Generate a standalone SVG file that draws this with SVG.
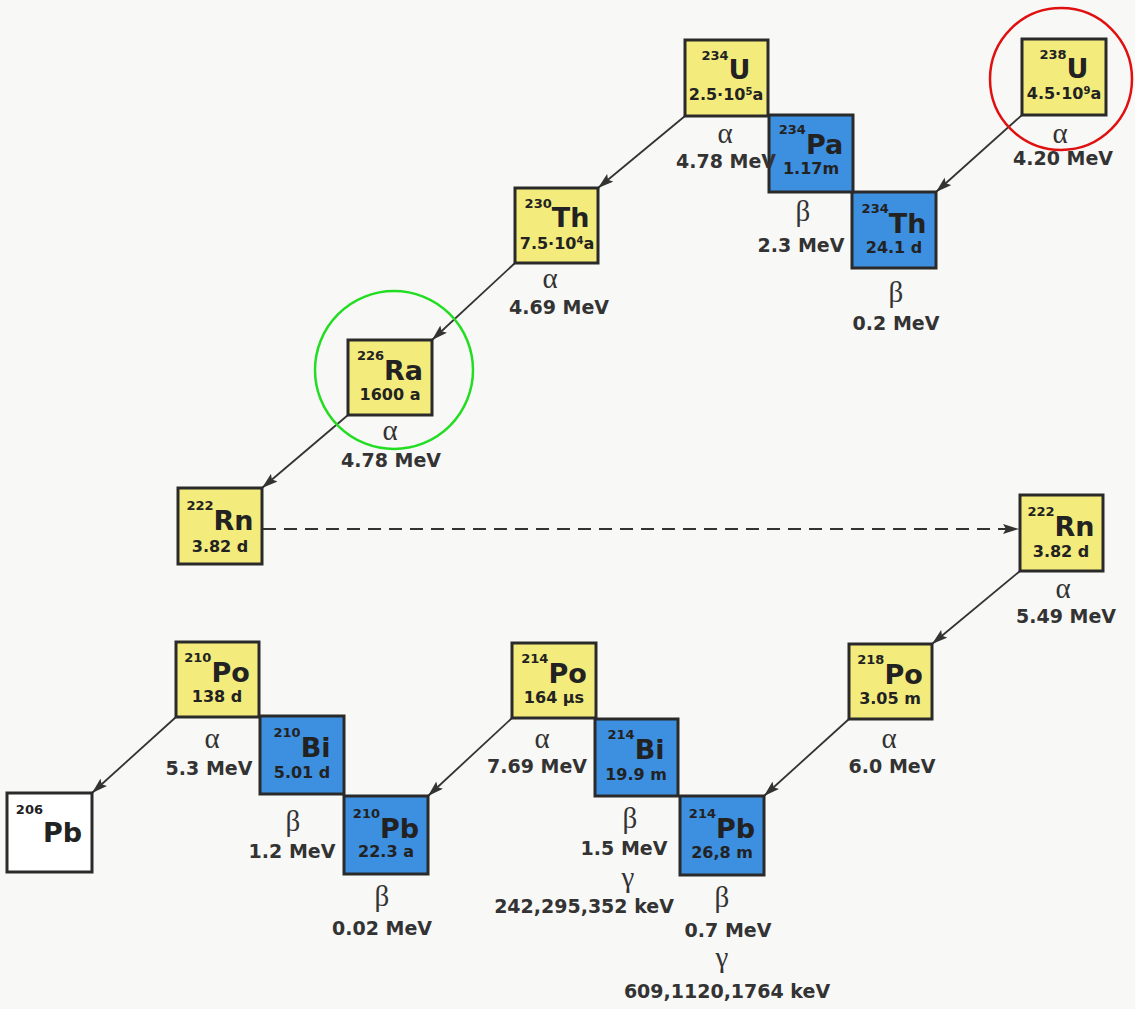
<svg xmlns="http://www.w3.org/2000/svg" width="1135" height="1009" viewBox="0 0 1135 1009">
<defs>
<style>
.bg{fill:#f8f8f6}
.box{stroke:#2a2a2a;stroke-width:3}
.y{fill:#f3eb7c}
.b{fill:#3d8fe0}
.w{fill:#ffffff}
.nuc{font-family:"DejaVu Sans","Liberation Sans",sans-serif;font-weight:bold;fill:#222;text-anchor:middle;font-size:27px}
.sup{font-size:13px}
.hl{font-family:"DejaVu Sans","Liberation Sans",sans-serif;font-weight:bold;fill:#222;text-anchor:middle;font-size:16px}
.ex{font-size:10px}
.g{font-family:"Liberation Serif","Times New Roman",serif;font-size:29px;fill:#333;text-anchor:middle}
.e{font-family:"DejaVu Sans","Liberation Sans",sans-serif;font-weight:bold;font-size:19px;fill:#333;text-anchor:middle}
.arr{stroke:#333;stroke-width:1.8;fill:none;marker-end:url(#ah)}
.dash{stroke-dasharray:13 8;stroke-width:2}
.ring{fill:none;stroke-width:2.5}
</style>
<marker id="ah" markerUnits="userSpaceOnUse" markerWidth="16" markerHeight="10" refX="16" refY="5" orient="auto">
<path d="M0,0 L16,5 L0,10 L3,5 Z" fill="#333"/>
</marker>
</defs>
<rect class="bg" x="0" y="0" width="1135" height="1009"/>

<g id="connectors">
<line class="arr" x1="1022" y1="115" x2="936" y2="192"/>
<line class="arr" x1="685" y1="116" x2="598" y2="188"/>
<line class="arr" x1="515" y1="263" x2="432" y2="340"/>
<line class="arr" x1="348" y1="415" x2="262" y2="488"/>
<line class="arr" x1="1020" y1="571" x2="932" y2="644"/>
<line class="arr" x1="849" y1="719" x2="764" y2="796"/>
<line class="arr" x1="512" y1="718" x2="428" y2="796"/>
<line class="arr" x1="176" y1="717" x2="92" y2="793"/>
<line class="arr dash" x1="263" y1="529" x2="1019" y2="529"/>
</g>

<g id="U238">
<rect class="box y" x="1022" y="39" width="84" height="76"/>
<text class="nuc" x="1064" y="78"><tspan class="sup" dy="-19">238</tspan><tspan dy="19">U</tspan></text>
<text class="hl" x="1064" y="99">4.5·10<tspan class="ex" dy="-5">9</tspan><tspan dy="5">a</tspan></text>
<text class="g" x="1060" y="143">α</text>
<text class="e" x="1063" y="165">4.20 MeV</text>
</g>

<g id="Th234">
<rect class="box b" x="852" y="192" width="84" height="76"/>
<text class="nuc" x="894" y="233"><tspan class="sup" dy="-20">234</tspan><tspan dy="20">Th</tspan></text>
<text class="hl" x="894" y="253">24.1 d</text>
<text class="g" x="896" y="302">β</text>
<text class="e" x="896" y="330">0.2 MeV</text>
</g>

<g id="Pa234">
<rect class="box b" x="769" y="115" width="84" height="77"/>
<text class="nuc" x="811" y="154"><tspan class="sup" dy="-20">234</tspan><tspan dy="20">Pa</tspan></text>
<text class="hl" x="811" y="174">1.17m</text>
<text class="g" x="803" y="221">β</text>
<text class="e" x="801" y="252">2.3 MeV</text>
</g>

<g id="U234">
<rect class="box y" x="685" y="40" width="83" height="76"/>
<text class="nuc" x="726" y="79"><tspan class="sup" dy="-19">234</tspan><tspan dy="19">U</tspan></text>
<text class="hl" x="726" y="100">2.5·10<tspan class="ex" dy="-5">5</tspan><tspan dy="5">a</tspan></text>
<text class="g" x="725" y="143">α</text>
<text class="e" x="726" y="168">4.78 MeV</text>
</g>

<g id="Th230">
<rect class="box y" x="515" y="188" width="83" height="75"/>
<text class="nuc" x="557" y="227"><tspan class="sup" dy="-19">230</tspan><tspan dy="19">Th</tspan></text>
<text class="hl" x="557" y="249">7.5·10<tspan class="ex" dy="-5">4</tspan><tspan dy="5">a</tspan></text>
<text class="g" x="550" y="288">α</text>
<text class="e" x="559" y="314">4.69 MeV</text>
</g>

<g id="Ra226">
<rect class="box y" x="348" y="340" width="84" height="75"/>
<text class="nuc" x="390" y="380"><tspan class="sup" dy="-20">226</tspan><tspan dy="20">Ra</tspan></text>
<text class="hl" x="390" y="400">1600 a</text>
<text class="g" x="390" y="440">α</text>
<text class="e" x="391" y="467">4.78 MeV</text>
</g>
<circle class="ring" cx="394" cy="370" r="79" stroke="#22dd22"/>

<g id="Rn222a">
<rect class="box y" x="178" y="488" width="84" height="76"/>
<text class="nuc" x="220" y="530"><tspan class="sup" dy="-20">222</tspan><tspan dy="20">Rn</tspan></text>
<text class="hl" x="220" y="552">3.82 d</text>
</g>

<g id="Rn222b">
<rect class="box y" x="1020" y="495" width="83" height="76"/>
<text class="nuc" x="1061" y="536"><tspan class="sup" dy="-20">222</tspan><tspan dy="20">Rn</tspan></text>
<text class="hl" x="1061" y="557">3.82 d</text>
<text class="g" x="1063" y="598">α</text>
<text class="e" x="1066" y="623">5.49 MeV</text>
</g>

<g id="Po218">
<rect class="box y" x="849" y="644" width="83" height="75"/>
<text class="nuc" x="890" y="684"><tspan class="sup" dy="-20">218</tspan><tspan dy="20">Po</tspan></text>
<text class="hl" x="890" y="704">3.05 m</text>
<text class="g" x="889" y="748">α</text>
<text class="e" x="892" y="773">6.0 MeV</text>
</g>

<g id="Pb214">
<rect class="box b" x="680" y="796" width="84" height="79"/>
<text class="nuc" x="722" y="838"><tspan class="sup" dy="-20">214</tspan><tspan dy="20">Pb</tspan></text>
<text class="hl" x="722" y="858">26,8 m</text>
<text class="g" x="722" y="907">β</text>
<text class="e" x="728" y="937">0.7 MeV</text>
<text class="g" x="722" y="967">γ</text>
<text class="e" x="727" y="998">609,1120,1764 keV</text>
</g>

<g id="Bi214">
<rect class="box b" x="595" y="719" width="83" height="77"/>
<text class="nuc" x="636" y="759"><tspan class="sup" dy="-20">214</tspan><tspan dy="20">Bi</tspan></text>
<text class="hl" x="636" y="780">19.9 m</text>
<text class="g" x="630" y="828">β</text>
<text class="e" x="624" y="855">1.5 MeV</text>
<text class="g" x="628" y="887">γ</text>
<text class="e" x="584" y="913">242,295,352 keV</text>
</g>

<g id="Po214">
<rect class="box y" x="512" y="643" width="84" height="75"/>
<text class="nuc" x="554" y="683"><tspan class="sup" dy="-20">214</tspan><tspan dy="20">Po</tspan></text>
<text class="hl" x="554" y="703">164 μs</text>
<text class="g" x="542" y="748">α</text>
<text class="e" x="537" y="773">7.69 MeV</text>
</g>

<g id="Pb210">
<rect class="box b" x="344" y="796" width="84" height="78"/>
<text class="nuc" x="386" y="838"><tspan class="sup" dy="-20">210</tspan><tspan dy="20">Pb</tspan></text>
<text class="hl" x="386" y="857">22.3 a</text>
<text class="g" x="382" y="906">β</text>
<text class="e" x="382" y="935">0.02 MeV</text>
</g>

<g id="Bi210">
<rect class="box b" x="260" y="716" width="84" height="78"/>
<text class="nuc" x="302" y="757"><tspan class="sup" dy="-20">210</tspan><tspan dy="20">Bi</tspan></text>
<text class="hl" x="302" y="778">5.01 d</text>
<text class="g" x="293" y="831">β</text>
<text class="e" x="292" y="858">1.2 MeV</text>
</g>

<g id="Po210">
<rect class="box y" x="176" y="642" width="83" height="75"/>
<text class="nuc" x="217" y="682"><tspan class="sup" dy="-20">210</tspan><tspan dy="20">Po</tspan></text>
<text class="hl" x="217" y="702">138 d</text>
<text class="g" x="212" y="748">α</text>
<text class="e" x="209" y="775">5.3 MeV</text>
</g>

<g id="Pb206">
<rect class="box w" x="7" y="793" width="85" height="79"/>
<text class="nuc" x="49" y="842"><tspan class="sup" dy="-28">206</tspan><tspan dy="28">Pb</tspan></text>
</g>

<circle class="ring" cx="1061" cy="79" r="71" stroke="#e01010"/>
</svg>
